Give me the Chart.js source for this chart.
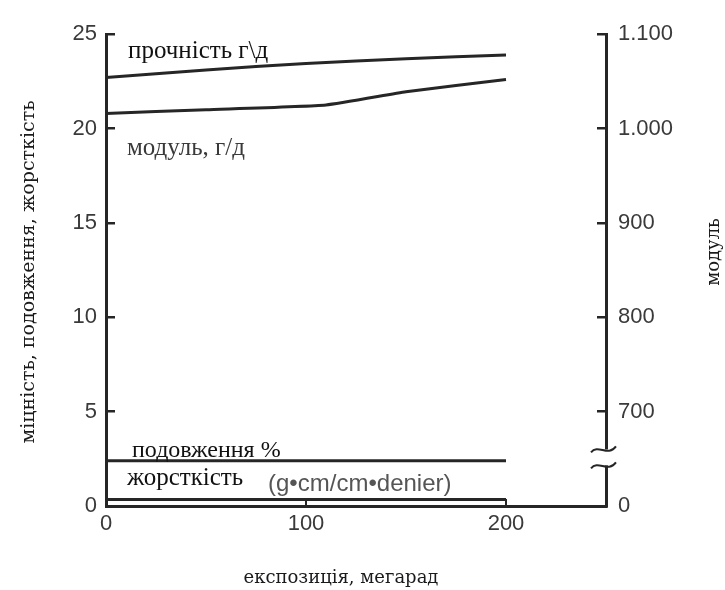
<!DOCTYPE html>
<html>
<head>
<meta charset="utf-8">
<script src="https://cdn.jsdelivr.net/npm/chart.js@4.4.1/dist/chart.umd.min.js"></script>
<style>
  html, body { margin: 0; padding: 0; background: #fff; }
  #wrap { width: 725px; height: 590px; }
</style>
</head>
<body>
<div id="wrap"><canvas id="fiberChart"></canvas></div>
<script>
// values (x = exposure, Mrad; y = left scale)
const expX = [0, 50, 100, 150, 200];
const strength = [22.7, 23.1, 23.45, 23.7, 23.9];
const modulusX = [0, 50, 110, 150, 200];
const modulus = [20.8, 21.0, 21.25, 21.95, 22.6];
const flatX = [0, 200];
const elongation = [2.4, 2.4];
const stiffness = [0.35, 0.35];

const xTicks = [0, 100, 200];
const leftTicks = [0, 5, 10, 15, 20, 25];
const rightTickValues = [600, 700, 800, 900, 1000, 1100];
const rightTickLabels = ['0', '700', '800', '900', '1.000', '1.100'];

const ink = '#262626';
const serif = "'Liberation Serif', serif";
const titleFont = "'DejaVu Serif', serif";

function pts(xs, ys) {
  return xs.map((x, i) => ({ x: x, y: ys[i] }));
}

function line(data, tension) {
  return {
    data: data,
    borderColor: ink,
    borderWidth: 3,
    pointRadius: 0,
    tension: tension || 0,
    yAxisID: 'y'
  };
}

/* in-plot labels, anchored to data coordinates */
const curveLabels = {
  id: 'curveLabels',
  afterDatasetsDraw(chart) {
    const { ctx, scales: { x, y } } = chart;
    const items = [
      { t: 'прочність г\\д', x: 11, y: 23.75, font: '25px ' + serif, color: '#111' },
      { t: 'модуль, г/д', x: 10.5, y: 18.6, font: '25px ' + serif, color: '#3a3a3a' },
      { t: 'подовження %', x: 13, y: 2.6, font: '24px ' + serif, color: '#111' },
      { t: 'жорсткість', x: 10.5, y: 1.1, font: '25px ' + serif, color: '#111' },
      { t: '(g•cm/cm•denier)', x: 81, y: 0.8, font: "24px 'Liberation Sans', sans-serif", color: '#555' }
    ];
    ctx.save();
    ctx.textAlign = 'left';
    ctx.textBaseline = 'alphabetic';
    items.forEach(it => {
      ctx.font = it.font;
      ctx.fillStyle = it.color;
      ctx.fillText(it.t, x.getPixelForValue(it.x), y.getPixelForValue(it.y));
    });
    ctx.restore();
  }
};

/* axis titles and the break mark on the right axis */
const axisExtras = {
  id: 'axisExtras',
  afterDraw(chart) {
    const { ctx, chartArea, scales: { y2 } } = chart;
    ctx.save();
    ctx.fillStyle = '#1a1a1a';
    ctx.textAlign = 'center';
    ctx.textBaseline = 'middle';

    ctx.save();
    ctx.font = '19px ' + titleFont;
    ctx.translate(29, 272);
    ctx.rotate(-Math.PI / 2);
    ctx.fillText('міцність, подовження, жорсткість', 0, 0);
    ctx.restore();

    ctx.font = '18px ' + titleFont;
    ctx.save();
    ctx.translate(714, 252);
    ctx.rotate(-Math.PI / 2);
    ctx.fillText('модуль', 0, 0);
    ctx.restore();

    ctx.fillText('експозиція, мегарад', 341, 578);

    // axis break
    const ax = chartArea.right;
    const yA = y2.getPixelForValue(660);
    const yB = y2.getPixelForValue(643);
    ctx.fillStyle = '#fff';
    ctx.fillRect(ax - 3, yA, 6, yB - yA);
    ctx.strokeStyle = ink;
    ctx.lineWidth = 2;
    [yA, yB].forEach(yy => {
      ctx.beginPath();
      ctx.moveTo(ax - 15, yy + 3);
      ctx.bezierCurveTo(ax - 8, yy - 6, ax + 2, yy + 8, ax + 10, yy - 3);
      ctx.stroke();
    });
    ctx.restore();
  }
};

const tickFont = { family: "'Liberation Sans', sans-serif", size: 22 };

new Chart(document.getElementById('fiberChart'), {
  type: 'line',
  data: {
    datasets: [
      line(pts(expX, strength), 0.3),
      line(pts(modulusX, modulus), 0.15),
      line(pts(flatX, elongation)),
      line(pts(flatX, stiffness))
    ]
  },
  options: {
    responsive: true,
    maintainAspectRatio: false,
    animation: false,
    layout: { padding: { top: 25, left: 0, right: 0, bottom: 0 } },
    plugins: { legend: { display: false }, tooltip: { enabled: false } },
    scales: {
      x: {
        type: 'linear',
        min: 0,
        max: 250,
        afterBuildTicks: s => { s.ticks = xTicks.map(v => ({ value: v })); },
        afterFit: s => { s.height = 84; },
        grid: { drawOnChartArea: false, tickLength: -7, color: ink, lineWidth: 2 },
        border: { color: ink, width: 3 },
        ticks: { font: tickFont, color: '#3a3a3a', padding: 12, maxRotation: 0 }
      },
      y: {
        position: 'left',
        min: 0,
        max: 25,
        afterBuildTicks: s => { s.ticks = leftTicks.map(v => ({ value: v })); },
        afterFit: s => { s.width = 106; },
        grid: { drawOnChartArea: false, tickLength: -9, color: ink, lineWidth: 2.5 },
        border: { color: ink, width: 3 },
        ticks: { font: tickFont, color: '#3a3a3a', padding: 18 }
      },
      y2: {
        position: 'right',
        min: 600,
        max: 1100,
        afterBuildTicks: s => { s.ticks = rightTickValues.map(v => ({ value: v })); },
        afterFit: s => { s.width = 119; },
        grid: { drawOnChartArea: false, tickLength: -9, color: ink, lineWidth: 2.5 },
        border: { color: ink, width: 3 },
        ticks: {
          font: tickFont,
          color: '#3a3a3a',
          padding: 21,
          callback: (v) => rightTickLabels[rightTickValues.indexOf(v)]
        }
      }
    }
  },
  plugins: [curveLabels, axisExtras]
});
</script>
</body>
</html>
